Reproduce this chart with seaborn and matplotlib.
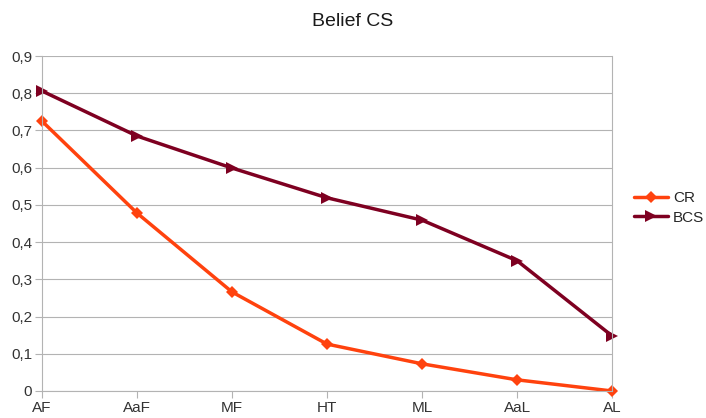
import pandas as pd
import seaborn as sns
import matplotlib.pyplot as plt
from matplotlib.ticker import FuncFormatter

categories = ["AF", "AaF", "MF", "HT", "ML", "AaL", "AL"]
cr_values = [0.725, 0.478, 0.266, 0.126, 0.073, 0.030, 0.0]
bcs_values = [0.806, 0.685, 0.599, 0.519, 0.459, 0.350, 0.148]

df = pd.DataFrame(
    {
        "category": categories * 2,
        "value": cr_values + bcs_values,
        "series": ["CR"] * len(categories) + ["BCS"] * len(categories),
    }
)

sns.set_style("white")
plt.rcParams["font.family"] = ["Liberation Sans", "DejaVu Sans"]

fig = plt.figure(figsize=(7.06, 4.18), dpi=100)
ax = fig.add_axes([0.0595, 0.0646, 0.8075, 0.8014])

colors = {"CR": "#ff420e", "BCS": "#7e0021"}
markers = {"CR": "D", "BCS": ">"}
sizes = {"CR": 6, "BCS": 8}

xpos = {c: i for i, c in enumerate(categories)}
df["x"] = df["category"].map(xpos)

for name in ["CR", "BCS"]:
    sub = df[df["series"] == name]
    sns.lineplot(
        data=sub, x="x", y="value", ax=ax, color=colors[name], linewidth=2.5,
        marker=markers[name], markersize=sizes[name], markeredgewidth=0,
        label=name, clip_on=False,
    )

ax.set_xlim(0, len(categories) - 1)
ax.set_ylim(0, 0.9)
ax.set_xticks(range(len(categories)))
ax.set_xticklabels(categories)
ax.set_yticks([i / 10 for i in range(10)])
ax.yaxis.set_major_formatter(
    FuncFormatter(lambda v, _: "0" if abs(v) < 1e-9 else f"{v:.1f}".replace(".", ","))
)
ax.grid(axis="y", color="#b3b3b3", linewidth=0.8)
ax.set_axisbelow(True)
for side in ["left", "right", "bottom"]:
    ax.spines[side].set_color("#b3b3b3")
    ax.spines[side].set_linewidth(0.8)
ax.spines["top"].set_visible(False)
ax.tick_params(axis="x", bottom=True, length=5, color="#b3b3b3", labelsize=11, pad=2)
ax.tick_params(axis="y", left=True, length=5, color="#b3b3b3", labelsize=11, pad=2)
ax.set_xlabel("")
ax.set_ylabel("")
for lbl in ax.get_xticklabels() + ax.get_yticklabels():
    lbl.set_color("#333333")

# title is centred on the whole figure, not the axes
fig.text(0.5, 1 - 22 / 418, "Belief CS", fontsize=14, color="#1a1a1a",
         ha="center", va="center")

handles, labels = ax.get_legend_handles_labels()
ax.get_legend().remove()
fig.legend(
    handles, labels, loc="center left", bbox_to_anchor=(634 / 706, 0.502),
    frameon=False, fontsize=11, handlelength=2.2, handletextpad=0.35,
    labelspacing=0.35, borderaxespad=0, borderpad=0,
)

fig.savefig("out.png", dpi=100)
